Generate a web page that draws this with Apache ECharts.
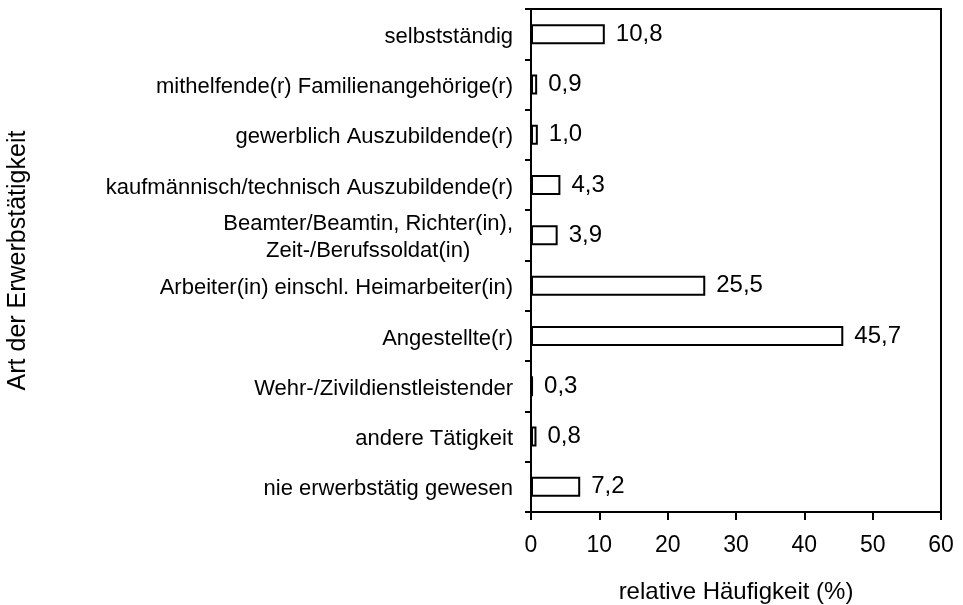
<!DOCTYPE html>
<html>
<head>
<meta charset="utf-8">
<script src="https://cdn.jsdelivr.net/npm/echarts@6/dist/echarts.min.js"></script>
<style>
  html, body { margin: 0; padding: 0; background: #fff; }
  #chart { width: 963px; height: 605px; }
</style>
</head>
<body>
<div id="chart"></div>
<script>
  // Kategorien (von oben nach unten)
  var categories = [
    'selbstständig',
    'mithelfende(r) Familienangehörige(r)',
    'gewerblich Auszubildende(r)',
    'kaufmännisch/technisch Auszubildende(r)',
    'Beamter/Beamtin, Richter(in),\nZeit-/Berufssoldat(in)',
    'Arbeiter(in) einschl. Heimarbeiter(in)',
    'Angestellte(r)',
    'Wehr-/Zivildienstleistender',
    'andere Tätigkeit',
    'nie erwerbstätig gewesen'
  ]
  var values = [10.8, 0.9, 1.0, 4.3, 3.9, 25.5, 45.7, 0.3, 0.8, 7.2]
  var xTicks = [0, 10, 20, 30, 40, 50, 60]

  var font = '"Liberation Sans", Arial, sans-serif'
  var chart = echarts.init(document.getElementById('chart'))
  chart.setOption({
    animation: false,
    textStyle: { fontFamily: font, color: '#000' },
    grid: {
      left: 531,
      right: 22,
      top: 9,
      bottom: 93,
      outerBoundsMode: 'none',
      containLabel: false,
      show: true,
      borderColor: '#000',
      borderWidth: 2
    },
    xAxis: {
      type: 'value',
      min: xTicks[0],
      max: xTicks[xTicks.length - 1],
      interval: 10,
      name: 'relative Häufigkeit (%)',
      nameLocation: 'middle',
      nameGap: 68,
      nameTextStyle: { fontSize: 24, color: '#000', fontFamily: font },
      axisLine: { show: true, lineStyle: { color: '#000', width: 2 } },
      axisTick: { show: true, length: 8, lineStyle: { color: '#000', width: 2 } },
      axisLabel: { fontSize: 23, color: '#000', margin: 22, fontFamily: font },
      splitLine: { show: false }
    },
    yAxis: {
      type: 'category',
      data: categories,
      inverse: true,
      name: 'Art der Erwerbstätigkeit',
      nameLocation: 'middle',
      nameGap: 500,
      nameRotate: 90,
      nameTextStyle: { fontSize: 25, color: '#000', fontFamily: font },
      axisLine: { show: true, lineStyle: { color: '#000', width: 2 } },
      axisTick: { show: true, length: 6, lineStyle: { color: '#000', width: 2 } },
      axisLabel: {
        margin: 18,
        color: '#000',
        fontSize: 22,
        fontFamily: font,
        lineHeight: 27,
        padding: [5, 0, 0, 0],
        formatter: function (v) {
          return v.split('\n').map(function (s) { return '{c|' + s + '}' }).join('\n')
        },
        rich: {
          c: { align: 'center', fontSize: 22, lineHeight: 27, color: '#000', fontFamily: font }
        }
      }
    },
    series: [{
      type: 'bar',
      data: values,
      barWidth: 20,
      itemStyle: { color: '#fff', borderColor: '#000', borderWidth: 2 },
      label: {
        show: true,
        position: 'right',
        distance: 11,
        fontSize: 24,
        color: '#000',
        fontFamily: font,
        formatter: function (p) { return p.value.toFixed(1).replace('.', ',') }
      }
    }]
  })
</script>
</body>
</html>
